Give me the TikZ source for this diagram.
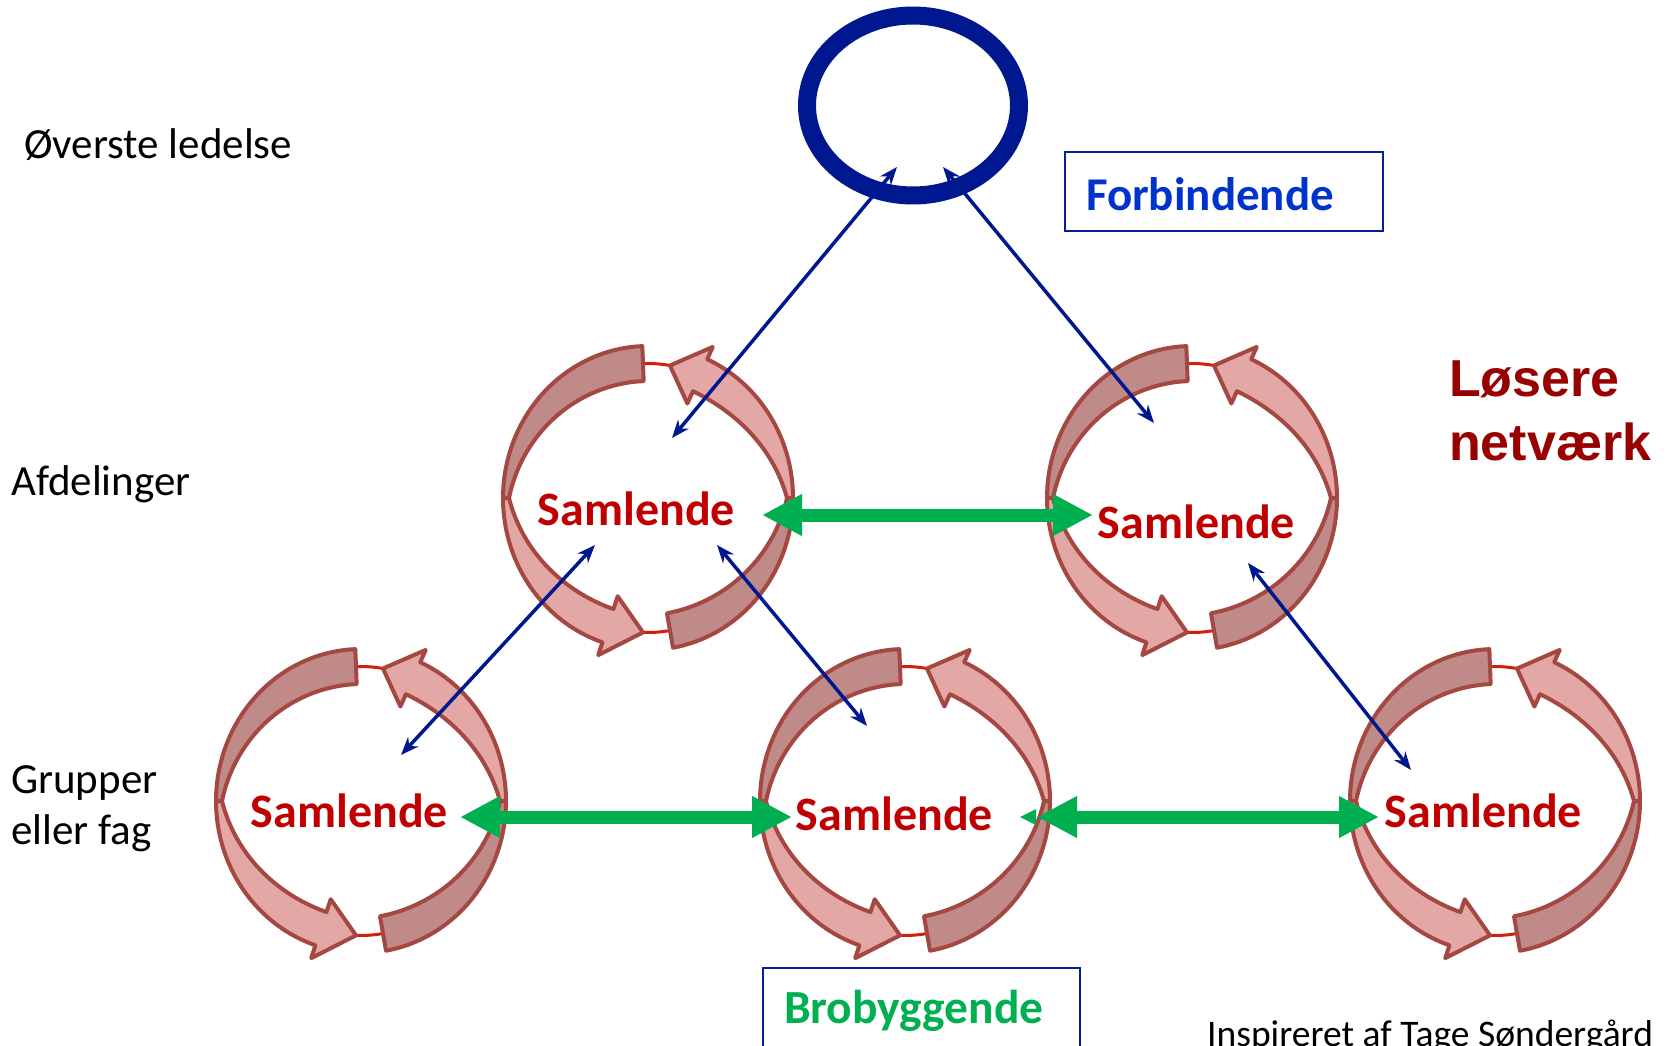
\documentclass[tikz,border=0pt]{standalone}
\usepackage{fontspec}
\setmainfont{Carlito}
\newfontfamily\arialfont{Liberation Sans}
\usetikzlibrary{arrows.meta,shapes.geometric}
\definecolor{navy}{RGB}{0,24,143}
\definecolor{boxblue}{RGB}{0,32,160}
\definecolor{textblue}{RGB}{0,51,204}
\definecolor{brgreen}{RGB}{0,176,80}
\definecolor{samred}{RGB}{192,0,0}
\definecolor{losred}{RGB}{153,0,0}
\definecolor{ribstroke}{RGB}{165,72,66}
\definecolor{ribdarkfill}{RGB}{191,138,135}
\definecolor{riblightfill}{RGB}{227,168,166}
\definecolor{ribline}{RGB}{210,30,10}
\tikzset{
  ribdark/.style={fill=ribdarkfill,draw=ribstroke,line width=4pt,line join=round},
  riblight/.style={fill=riblightfill,draw=ribstroke,line width=4pt,line join=round},
  redline/.style={draw=ribline,line width=3pt},
  samlabel/.style={font=\fontsize{48}{56}\selectfont\bfseries,text=samred,inner sep=0pt,anchor=base},
  plain/.style={font=\fontsize{43}{50}\selectfont,text=black,inner sep=0pt,anchor=base west},
  labelbox/.style={draw=boxblue,line width=2pt,anchor=base west,align=left,inner xsep=21pt},
  bluelink/.style={draw=navy,line width=3.5pt,{Stealth[length=18pt,width=14pt]}-{Stealth[length=18pt,width=14pt]}},
  greenlink/.style={draw=brgreen,line width=13pt,{Triangle[length=40pt,width=39pt]}-{Triangle[length=40pt,width=39pt]}}
}
% cx cy start twist base tip
\newcommand{\ribbonarrow}[6]{%
  \filldraw[ribdark] plot[domain=#3:#4,samples=40] ({#1+145*cos(\x)},{#2+152*sin(\x)})
    -- plot[domain=#4:#3,samples=40] ({#1+(139-29*sin(90*abs(\x-(#4))/abs((#3)-(#4))))*cos(\x)},{#2+(146-29*sin(90*abs(\x-(#4))/abs((#3)-(#4))))*sin(\x)}) -- cycle;
  \filldraw[riblight] plot[domain=#4:#5,samples=40] ({#1+145*cos(\x)},{#2+152*sin(\x)})
    -- ({#1+158.5*cos(#5)},{#2+165.5*sin(#5)})
    -- ({#1+127.5*cos(#6)},{#2+134.5*sin(#6)})
    -- ({#1+96.5*cos(#5)},{#2+103.5*sin(#5)})
    -- plot[domain=#5:#4,samples=40] ({#1+(139-29*sin(90*abs(\x-(#4))/abs((#5)-(#4))))*cos(\x)},{#2+(146-29*sin(90*abs(\x-(#4))/abs((#5)-(#4))))*sin(\x)}) -- cycle;
}
\newcommand{\cyclering}[2]{%
  \draw[redline] ({#1+127.5*cos(267.75)},{#2+134.5*sin(267.75)}) arc[start angle=267.75,end angle=279.9,x radius=127.5,y radius=134.5];
  \draw[redline] ({#1+127.5*cos(80.07)},{#2+134.5*sin(80.07)}) arc[start angle=80.07,end angle=92.25,x radius=127.5,y radius=134.5];
  \ribbonarrow{#1}{#2}{267.75}{180}{108.3}{92.25}
  \ribbonarrow{#1}{#2}{80.07}{0}{-65.9}{-80.07}
}
\begin{document}
\begin{tikzpicture}[x=1pt,y=-1pt]
\useasboundingbox (0,0) rectangle (1666,1046);
\fill[white] (0,0) rectangle (1666,1046);

% left labels
\node[plain] (lvl1) at (24,159) {Øverste ledelse};
\node[plain] (lvl2) at (11,495) {Afdelinger};
\node[plain] (lvl3a) at (11,793) {Grupper};
\node[plain] (lvl3b) at (11,844) {eller fag};

% top ring
\node[draw=navy,line width=18pt,ellipse,minimum width=212pt,minimum height=180pt,inner sep=0pt] (top) at (913,105.5) {};

% cycle rings
\cyclering{648}{498}
\cyclering{1192}{498}
\cyclering{361}{801}
\cyclering{905}{801}
\cyclering{1495}{801}

\node[samlabel] (s1) at (636.5,525) {Samlende};
\node[samlabel] (s2) at (1196.5,538) {Samlende};
\node[samlabel] (s3) at (349.5,827) {Samlende};
\node[samlabel] (s4) at (894.5,830) {Samlende};
\node[samlabel] (s5) at (1483.5,827) {Samlende};

% boxes
\node[labelbox,text width=276pt,text height=37pt,text depth=0pt,inner ysep=21pt,
      font=\fontsize{47}{56}\selectfont\bfseries,text=textblue] (forb) at (1064,210) {Forbindende};
\node[labelbox,text width=275pt,text height=33pt,text depth=10pt,inner ysep=22pt,
      font=\fontsize{47.5}{56}\selectfont\bfseries,text=brgreen] (brob) at (762,1023) {Brobyggende};

% Løsere netværk
\node[inner sep=0pt,anchor=base west,font=\arialfont\fontsize{52}{63}\selectfont\bfseries,text=losred] (los1) at (1449,396) {Løsere};
\node[inner sep=0pt,anchor=base west,font=\arialfont\fontsize{52}{63}\selectfont\bfseries,text=losred] (los2) at (1449,460) {netværk};

% credit
\node[inner sep=0pt,anchor=base west,font=\fontsize{37.5}{44}\selectfont] (credit) at (1207,1046) {Inspireret af Tage Søndergård};

% blue links
\coordinate (a1) at (897,167); \coordinate (a2) at (672,438);
\coordinate (b1) at (943,167); \coordinate (b2) at (1154,423);
\coordinate (c1) at (595,545); \coordinate (c2) at (401,755);
\coordinate (d1) at (717,545); \coordinate (d2) at (867,726);
\coordinate (e1) at (1248,563); \coordinate (e2) at (1411,770);
\draw[bluelink] (a1) -- (a2);
\draw[bluelink] (b1) -- (b2);
\draw[bluelink] (c1) -- (c2);
\draw[bluelink] (d1) -- (d2);
\draw[bluelink] (e1) -- (e2);

% green links
\coordinate (g1) at (762,515); \coordinate (g2) at (1093,515);
\coordinate (g3) at (460,817); \coordinate (g4) at (792,817);
\coordinate (g5) at (1037,817); \coordinate (g6) at (1379,817);
\draw[greenlink] (g1) -- (g2);
\draw[greenlink] (g3) -- (g4);
\draw[greenlink] (g5) -- (g6);
\coordinate (gt) at (1020,817);
\fill[brgreen] (gt) -- (1036,809) -- (1036,825) -- cycle;
\end{tikzpicture}
\end{document}
